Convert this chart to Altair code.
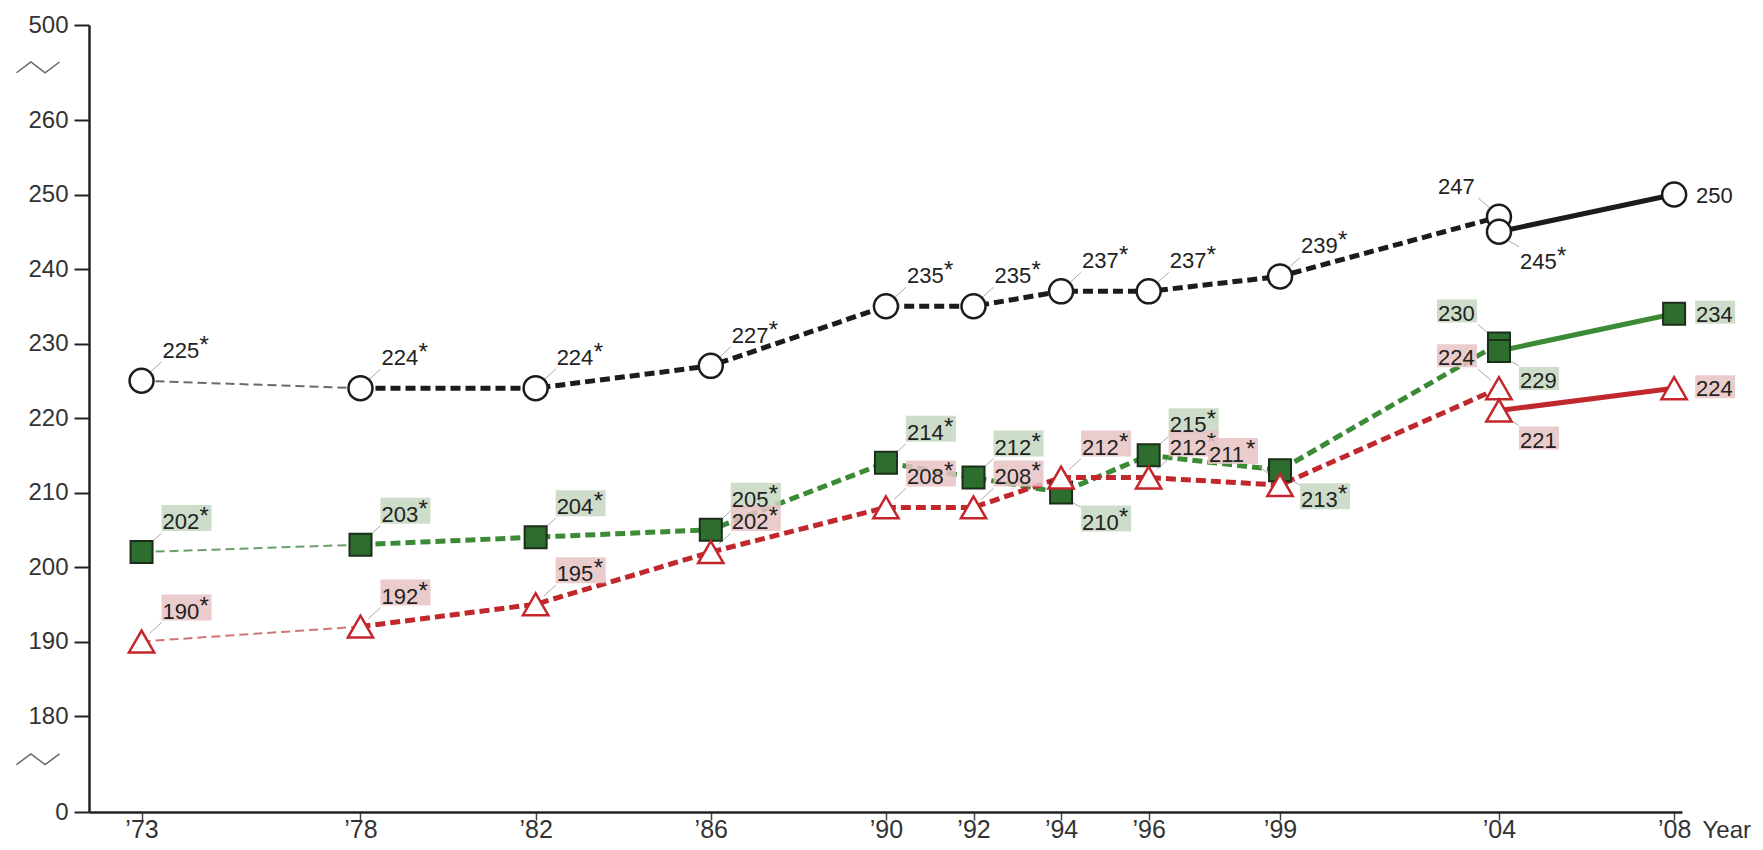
import altair as alt
import pandas as pd

# ---------------- data ----------------
years = [1973, 1978, 1982, 1986, 1990, 1992, 1994, 1996, 1999, 2004, 2004, 2008]
assessment = ["original"] * 10 + ["revised"] * 2
white = [225, 224, 224, 227, 235, 235, 237, 237, 239, 247, 245, 250]
hispanic = [202, 203, 204, 205, 214, 212, 210, 215, 213, 230, 229, 234]
black = [190, 192, 195, 202, 208, 208, 212, 212, 211, 224, 221, 224]
white_sig = [1, 1, 1, 1, 1, 1, 1, 1, 1, 0, 1, 0]
hispanic_sig = [1, 1, 1, 1, 1, 1, 1, 1, 1, 0, 0, 0]
black_sig = [1, 1, 1, 1, 1, 1, 1, 1, 1, 0, 0, 0]
# label placement around each point: ur = up-right, dr = down-right, ul = up-left, r = right
white_place = ["ur"] * 9 + ["ul", "dr", "r"]
hispanic_place = ["ur", "ur", "ur", "ur", "ur", "ur", "dr", "ur", "dr", "ul", "dr", "r"]
black_place = ["ur"] * 8 + ["ul", "ul", "dr", "r"]
series_names = ["White", "Hispanic", "Black"]
y_ticks = [0, 180, 190, 200, 210, 220, 230, 240, 250, 260, 500]
x_ticks = [1973, 1978, 1982, 1986, 1990, 1992, 1994, 1996, 1999, 2004, 2008]
axis_breaks = [393, 99]

# ---------------- styles ----------------
W, H = 1593, 787
FONT = "Liberation Sans"
line_dark = {"White": "#1c1c1c", "Hispanic": "#3b8a36", "Black": "#c0282d"}
line_light = {"White": "#6a6a6a", "Hispanic": "#6b9f67", "Black": "#d07474"}
box_fill = {"Hispanic": "#c4d7c0", "Black": "#e8c3c4"}
PLACE = {
    "ur": dict(ty=-23, lead=(8, -8, 20, -19)),
    "dr": dict(ty=37, lead=(8, 8, 20, 15)),
    "ul": dict(ty=-23, lead=(-8, -8, -21, -19)),
    "r": dict(ty=8, lead=None),
}

# ---------------- tables ----------------
vals = {"White": white, "Hispanic": hispanic, "Black": black}
sigs = {"White": white_sig, "Hispanic": hispanic_sig, "Black": black_sig}
places = {"White": white_place, "Hispanic": hispanic_place, "Black": black_place}

pts = []
for s in series_names:
    for i, (yr, v) in enumerate(zip(years, vals[s])):
        pts.append(dict(series=s, idx=i, year=yr, value=v, star=sigs[s][i],
                        place=places[s][i], assess=assessment[i]))
points = pd.DataFrame(pts)

segs = []
for s in series_names:
    for i, (yr, v) in enumerate(zip(years, vals[s])):
        if i in (0, 1):
            segs.append(dict(series=s, idx=i, year=yr, value=v, seg="early"))
        if 1 <= i <= 9:
            segs.append(dict(series=s, idx=i, year=yr, value=v, seg="trend"))
        if i >= 10:
            segs.append(dict(series=s, idx=i, year=yr, value=v, seg="revised"))
lines = pd.DataFrame(segs)

breaks = pd.DataFrame({"value": axis_breaks, "year": [1971.8] * len(axis_breaks)})

# ---------------- scales ----------------
xs = alt.Scale(domain=[1971.8, 2008.18], range=[0, W], nice=False, zero=False)
ys = alt.Scale(domain=[0, 180, 260, 500], range=[H, 691, 95, 0], nice=False, zero=False)

X = alt.X("year:Q", scale=xs, axis=alt.Axis(
    values=x_ticks, labelExpr="'\u2019' + substring(toString(datum.value), 2, 4)",
    grid=False, tickSize=8, tickWidth=1.5, tickColor="#444", domainColor="#222",
    domainWidth=2.5, labelFontSize=25, labelFont=FONT, labelColor="#333",
    labelBaseline="alphabetic", labelPadding=17,
    title="Year", titleFont=FONT, titleFontSize=24, titleFontWeight="normal",
    titleColor="#333", titleX=W + 20, titleY=25, titleAlign="left",
    titleBaseline="alphabetic", titleAngle=0))
Y = alt.Y("value:Q", scale=ys, axis=alt.Axis(
    values=y_ticks, grid=False, tickSize=15, tickWidth=2, tickColor="#222",
    domainColor="#222", domainWidth=2.5, labelFontSize=24, labelFont=FONT,
    labelColor="#333", labelPadding=6, title=None))

layers = []

# lines, one layer per series and segment
base_l = alt.Chart(lines)
for s in series_names:
    for seg, style in [("early", dict(strokeWidth=2, strokeDash=[9, 5], color=line_light[s])),
                       ("trend", dict(strokeWidth=5, strokeDash=[10, 5], color=line_dark[s])),
                       ("revised", dict(strokeWidth=5, color=line_dark[s]))]:
        layers.append(base_l.transform_filter(
            f"datum.series == '{s}' && datum.seg == '{seg}'").mark_line(**style).encode(
            x=X, y=Y, order="idx:Q"))

# axis break marks
layers.append(alt.Chart(breaks).mark_point(
    shape="M-1,0.25L-0.33,-0.25L0.33,0.25L1,-0.25", size=1849, filled=False,
    stroke="#666", strokeWidth=1.5, xOffset=-51, opacity=1).encode(x=X, y=Y))

# labels
base_p = alt.Chart(points)
for p, cfg in PLACE.items():
    for st in (0, 1):
        bw = 50 if st else 40
        if p == "ul":
            left = -22 - bw
        elif p == "r":
            left = 21
        else:
            left = 20
        tx = left + 1
        ty = cfg["ty"]
        top = ty - (24 if st else 21)
        filt = f"datum.place == '{p}' && datum.star == {st}"
        if cfg["lead"] is not None:
            x1, y1, x2, y2 = cfg["lead"]
            layers.append(base_p.transform_filter(filt).mark_rule(
                color="#aaaaaa", strokeWidth=1, xOffset=x1, yOffset=y1,
                x2Offset=x2, y2Offset=y2).encode(x=X, x2="year:Q", y=Y, y2="value:Q"))
        for s in ("Hispanic", "Black"):
            layers.append(base_p.transform_filter(filt + f" && datum.series == '{s}'").mark_rect(
                xOffset=left, x2Offset=left + bw, yOffset=top, y2Offset=ty + 2,
                opacity=0.85, fill=box_fill[s]).encode(
                x=X, x2="year:Q", y=Y, y2="value:Q"))
        layers.append(base_p.transform_filter(filt).mark_text(
            align="left", baseline="alphabetic", dx=tx, dy=ty, fontSize=22, font=FONT,
            color="#222").encode(x=X, y=Y, text="value:Q"))
        if st:
            layers.append(base_p.transform_filter(filt).mark_text(
                align="left", baseline="alphabetic", dx=tx + 37, dy=ty - 5, fontSize=24,
                font=FONT, color="#222").encode(x=X, y=Y, text=alt.value("*")))

# markers
layers.append(base_p.transform_filter("datum.series == 'White'").mark_point(
    shape="circle", size=576, filled=True, fill="white", stroke="#1c1c1c",
    strokeWidth=2.5, opacity=1).encode(x=X, y=Y))
layers.append(base_p.transform_filter("datum.series == 'Hispanic'").mark_point(
    shape="square", size=484, filled=True, fill="#2d6e2e", stroke="#1a2e1a",
    strokeWidth=2, opacity=1).encode(x=X, y=Y))
layers.append(base_p.transform_filter("datum.series == 'Black'").mark_point(
    shape="triangle-up", size=640, filled=True, fill="white", stroke="#c4262b",
    strokeWidth=2.5, opacity=1).encode(x=X, y=Y))

chart = alt.layer(*layers).properties(
    width=W, height=H,
    autosize=alt.AutoSizeParams(type="none"),
    padding={"left": 81, "top": 17, "right": 73, "bottom": 30},
    background="white",
).configure_view(stroke=None)

chart.save("out.html", embed_options={"renderer": "svg", "actions": False})
